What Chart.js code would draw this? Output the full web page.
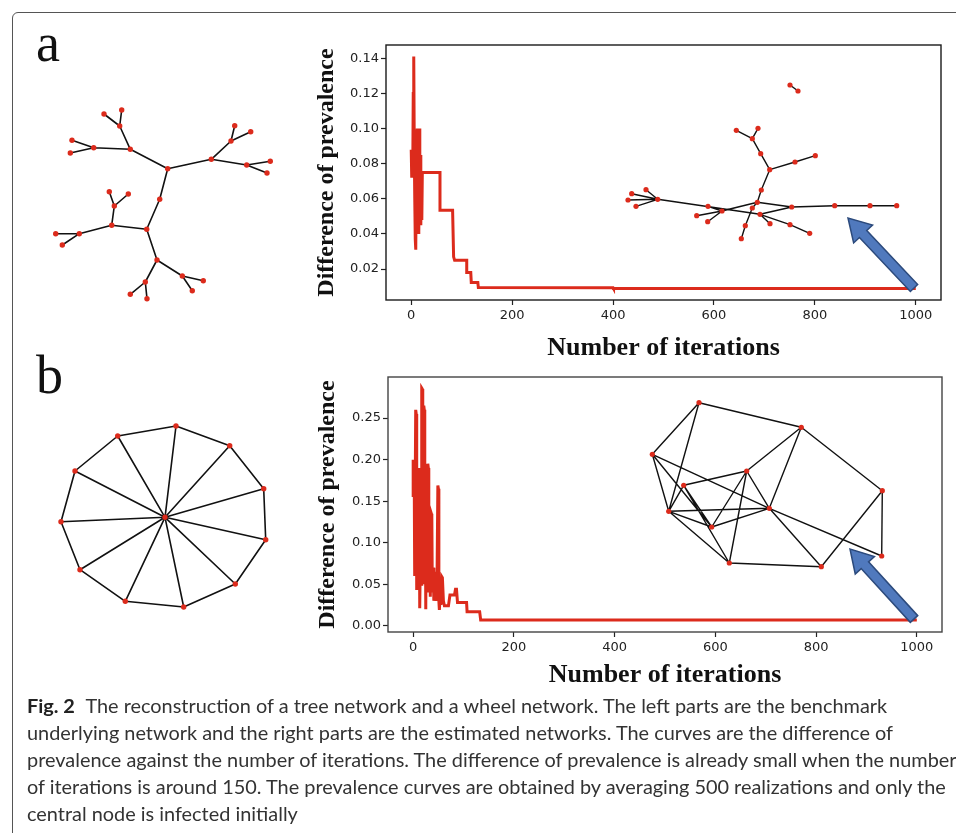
<!DOCTYPE html>
<html>
<head>
<meta charset="utf-8">
<script src="https://cdn.jsdelivr.net/npm/chart.js@4.4.1/dist/chart.umd.min.js"></script>
<style>
  body { margin: 0; width: 956px; height: 833px; background: #fff; position: relative; overflow: hidden; }
  .frame { position: absolute; left: 12px; top: 12px; width: 970px; height: 850px; border: 1px solid #555; border-radius: 6px; }
  .lbl { position: absolute; font-family: 'Liberation Serif', serif; font-size: 54px; line-height: 1; color: #111; }
  canvas { position: absolute; }
  .caption { position: absolute; left: 27px; top: 692px; font-family: Lato, sans-serif; font-size: 19.9px; line-height: 27px; color: #333; white-space: nowrap; }
  .caption b { color: #222; margin-right: 6px; }
</style>
</head>
<body>
<div class="frame"></div>
<div class="lbl" style="left:36px; top:16px;">a</div>
<div class="lbl" style="left:36px; top:348px;">b</div>

<canvas id="treeNet" width="280" height="240" style="left:20px; top:80px;"></canvas>
<canvas id="chartA" width="656" height="330" style="left:300px; top:40px;"></canvas>
<canvas id="wheelNet" width="280" height="240" style="left:20px; top:400px;"></canvas>
<canvas id="chartB" width="656" height="330" style="left:300px; top:370px;"></canvas>

<div class="caption">
  <b>Fig. 2</b> The reconstruction of a tree network and a wheel network. The left parts are the benchmark<br>
  underlying network and the right parts are the estimated networks. The curves are the difference of<br>
  prevalence against the number of iterations. The difference of prevalence is already small when the number<br>
  of iterations is around 150. The prevalence curves are obtained by averaging 500 realizations and only the<br>
  central node is infected initially
</div>

<script>
// ---- curve data ----
const xTicks = [0, 200, 400, 600, 800, 1000];
const yTicksA = [0.02, 0.04, 0.06, 0.08, 0.10, 0.12, 0.14];
const yTicksB = [0.00, 0.05, 0.10, 0.15, 0.20, 0.25];

const iterA = [0, 1, 2, 3, 4, 5, 6, 7, 8, 9, 10, 11, 12, 13, 14, 15, 16, 17, 18, 19, 20, 21, 22, 24,
  57, 57, 82, 84, 86, 110, 110, 118, 119, 132, 133, 400, 401, 1000];
const diffA = [0.088, 0.072, 0.086, 0.074, 0.120, 0.141, 0.090, 0.060, 0.037, 0.031, 0.080, 0.095,
  0.100, 0.050, 0.098, 0.040, 0.100, 0.060, 0.085, 0.045, 0.075, 0.048, 0.075, 0.075,
  0.075, 0.0535, 0.0535, 0.027, 0.025, 0.025, 0.018, 0.018, 0.0124, 0.0124, 0.0095, 0.0094, 0.0089, 0.0089];

const iterB = [0, 0, 2, 3, 5, 6, 7, 9, 10, 12, 13, 15, 16, 17, 18, 19, 21, 22, 23, 24, 25, 26, 27, 29,
  30, 31, 33, 34, 36, 37, 38, 40, 41, 43, 44, 46, 47, 49, 50, 51, 52, 54, 55, 57, 58, 60, 62, 70,
  73, 82, 84, 86, 88, 106, 107, 132, 134, 1000];
const diffB = [0.200, 0.155, 0.190, 0.060, 0.260, 0.255, 0.043, 0.140, 0.050, 0.190, 0.021, 0.120,
  0.050, 0.286, 0.285, 0.050, 0.265, 0.260, 0.060, 0.165, 0.020, 0.140, 0.050, 0.195,
  0.190, 0.040, 0.120, 0.035, 0.135, 0.133, 0.040, 0.070, 0.030, 0.065, 0.030, 0.050, 0.030, 0.169,
  0.165, 0.030, 0.019, 0.040, 0.025, 0.059, 0.058, 0.030, 0.024, 0.024,
  0.037, 0.037, 0.044, 0.044, 0.028, 0.028, 0.017, 0.017, 0.007, 0.007];

// ---- network layouts (node positions as read, in page pixels) ----
const treeNodes = [[121.7,110],[104,114],[119.7,126],[72,140.3],[70.3,153],[93.7,147.7],[130.3,149.3],
  [167.7,168.7],[211.3,159.3],[231,141],[234.7,125.7],[250.7,131.7],[246.7,165],[270.3,161.3],[267,173],
  [159.7,199.3],[146.7,229.3],[109.3,191.7],[128.3,194],[114.3,206],[111.7,225.3],[79.3,233.7],[55.7,233.7],
  [62.3,245],[157,260],[182.3,276],[203.3,280.7],[192.3,290.7],[145.3,282],[130.3,294.3],[147,298.7]];
const treeEdges = [[0,2],[1,2],[2,6],[3,5],[4,5],[5,6],[6,7],[7,8],[8,9],[9,10],[9,11],[8,12],[12,13],
  [12,14],[7,15],[15,16],[16,20],[20,19],[19,17],[19,18],[20,21],[21,22],[21,23],[16,24],[24,25],[25,26],
  [25,27],[24,28],[28,29],[28,30]];

const wheelNodes = [[165,517.3],[176,426],[229.7,445.7],[263.7,488.7],[265.7,539.7],[235.3,584],
  [183.7,607],[125.3,601.3],[80,569.7],[61,521.7],[75,471],[117.7,436]];
const wheelEdges = [[0,1],[0,2],[0,3],[0,4],[0,5],[0,6],[0,7],[0,8],[0,9],[0,10],[0,11],
  [1,2],[2,3],[3,4],[4,5],[5,6],[6,7],[7,8],[8,9],[9,10],[10,11],[11,1]];

const estTreeNodes = [[790,85],[798,91],[736.3,130.3],[758,128.3],[752.3,138.7],[760.7,153.7],[769.7,169.7],
  [795,162],[815.3,155.7],[761.3,190],[757.3,202.3],[752.3,208],[745.3,225.7],[741.3,238.7],[760,214.3],
  [770,223.7],[790,224.7],[809.7,233.3],[791.7,207],[834.7,205.7],[870,205.7],[896.7,205.7],[722,211],
  [708,206.3],[696.7,215.7],[707.7,221.7],[657.7,199.3],[646,189.7],[631.7,193.7],[628,200],[636,206.3]];
const estTreeEdges = [[0,1],[2,4],[3,4],[4,5],[5,6],[6,7],[7,8],[6,9],[9,10],[10,11],[11,12],[12,13],
  [10,18],[18,19],[19,20],[20,21],[22,10],[23,22],[24,22],[25,22],[26,14],[14,18],[14,15],[14,16],[16,17],
  [26,27],[26,28],[26,29],[26,30]];

const estWheelNodes = [[699,402.7],[801.3,427.3],[652.3,454.3],[746.7,471],[683.7,485.3],[882.3,490.7],
  [668.7,511.3],[769.3,508.3],[711.7,527],[881.7,556],[729.3,563],[821.3,566.7]];
const estWheelEdges = [[0,1],[0,2],[0,6],[1,5],[1,3],[1,7],[2,6],[2,8],[2,7],[4,3],[4,6],[4,8],[4,10],
  [6,7],[6,8],[6,10],[3,8],[3,10],[3,7],[8,7],[7,11],[7,9],[10,11],[11,5],[5,9]];

// arrows: [tail, tip]
const arrowA = [[914, 288], [848, 218]];
const arrowB = [[914, 619], [850, 549]];

const RED = '#dc2b1c';

function toPoints(xs, ys) { return xs.map((x, i) => ({ x: x, y: ys[i] })); }
function nodePoints(nodes) { return nodes.map(n => ({ x: n[0], y: n[1] })); }
function edgePoints(nodes, edges) {
  const pts = [];
  edges.forEach(([i, j]) => {
    pts.push({ x: nodes[i][0], y: nodes[i][1] }, { x: nodes[j][0], y: nodes[j][1] }, { x: null, y: null });
  });
  return pts;
}

const framePlugin = {
  id: 'frame',
  afterDraw(chart, args, o) {
    const { left, top, width, height } = chart.chartArea;
    const ctx = chart.ctx;
    ctx.save();
    ctx.strokeStyle = o.color;
    ctx.lineWidth = 1.4;
    ctx.strokeRect(left, top, width, height);
    ctx.restore();
  }
};

const arrowPlugin = {
  id: 'arrow',
  afterDatasetsDraw(chart, args, o) {
    if (!o.points) return;
    const sx = chart.scales.nx, sy = chart.scales.ny;
    const t0 = { x: sx.getPixelForValue(o.points[0][0]), y: sy.getPixelForValue(o.points[0][1]) };
    const t1 = { x: sx.getPixelForValue(o.points[1][0]), y: sy.getPixelForValue(o.points[1][1]) };
    const dx = t1.x - t0.x, dy = t1.y - t0.y, len = Math.hypot(dx, dy);
    const ux = dx / len, uy = dy / len, px = -uy, py = ux;
    const w = 5, hw = 13, hl = 22;
    const nx = t1.x - ux * hl, ny = t1.y - uy * hl;
    const ctx = chart.ctx;
    ctx.save();
    ctx.beginPath();
    ctx.moveTo(t0.x + px * w, t0.y + py * w);
    ctx.lineTo(nx + px * w, ny + py * w);
    ctx.lineTo(nx + px * hw, ny + py * hw);
    ctx.lineTo(t1.x, t1.y);
    ctx.lineTo(nx - px * hw, ny - py * hw);
    ctx.lineTo(nx - px * w, ny - py * w);
    ctx.lineTo(t0.x - px * w, t0.y - py * w);
    ctx.closePath();
    ctx.fillStyle = '#5079bd';
    ctx.fill();
    ctx.strokeStyle = '#2c4a7c';
    ctx.lineWidth = 1.5;
    ctx.stroke();
    ctx.restore();
  }
};

function panelChart(id, cfg) {
  const tickFont = { family: 'DejaVu Sans', size: 13 };
  const titleFont = { family: 'Liberation Serif', weight: 'bold', lineHeight: 1.2 };
  new Chart(document.getElementById(id), {
    type: 'line',
    data: {
      datasets: [
        { data: nodePoints(cfg.nodes), xAxisID: 'nx', yAxisID: 'ny', showLine: false,
          pointRadius: 2.6, pointBackgroundColor: RED, pointBorderWidth: 0, order: 0 },
        { data: edgePoints(cfg.nodes, cfg.edges), xAxisID: 'nx', yAxisID: 'ny', spanGaps: false,
          borderColor: '#111', borderWidth: 1.4, pointRadius: 0, order: 1 },
        { data: toPoints(cfg.iter, cfg.diff), xAxisID: 'x', yAxisID: 'y', borderColor: RED,
          borderWidth: 3, pointRadius: 0, tension: 0, borderJoinStyle: 'miter', order: 2 }
      ]
    },
    options: {
      responsive: false,
      animation: false,
      layout: { autoPadding: false, padding: cfg.padding },
      plugins: {
        legend: { display: false },
        tooltip: { enabled: false },
        frame: { color: cfg.frameColor },
        arrow: { points: cfg.arrow }
      },
      scales: {
        x: {
          type: 'linear', min: -50, max: 1050,
          afterBuildTicks: s => { s.ticks = xTicks.map(v => ({ value: v })); },
          afterFit: s => { s.height = cfg.xAxisHeight; s.paddingLeft = 0; s.paddingRight = 0; },
          grid: { drawOnChartArea: false, tickLength: 5, tickColor: '#222', tickWidth: 1.2 },
          border: { display: false },
          ticks: { font: tickFont, color: '#222', padding: 3, maxRotation: 0, callback: v => String(v) },
          title: { display: true, text: 'Number of iterations', color: '#111',
            font: Object.assign({ size: 26 }, titleFont), padding: { top: 0, bottom: cfg.xTitlePad } }
        },
        y: {
          type: 'linear', min: cfg.yMin, max: cfg.yMax,
          afterBuildTicks: s => { s.ticks = cfg.yTicks.map(v => ({ value: v })); },
          afterFit: s => { s.width = cfg.yAxisWidth; s.paddingTop = 0; s.paddingBottom = 0; },
          grid: { drawOnChartArea: false, tickLength: 5, tickColor: '#222', tickWidth: 1.2 },
          border: { display: false },
          ticks: { font: tickFont, color: '#222', padding: 2, callback: v => v.toFixed(2) },
          title: { display: true, text: 'Difference of prevalence', color: '#111',
            font: Object.assign({ size: 24 }, titleFont), padding: { top: cfg.yTitlePad, bottom: 0 } }
        },
        nx: { type: 'linear', display: false, min: cfg.box[0], max: cfg.box[1] },
        ny: { type: 'linear', display: false, min: cfg.box[2], max: cfg.box[3], reverse: true }
      }
    },
    plugins: [framePlugin, arrowPlugin]
  });
}

function netChart(id, nodes, edges, box) {
  new Chart(document.getElementById(id), {
    type: 'line',
    data: {
      datasets: [
        { data: nodePoints(nodes), showLine: false, pointRadius: 2.7,
          pointBackgroundColor: RED, pointBorderWidth: 0, order: 0 },
        { data: edgePoints(nodes, edges), spanGaps: false, borderColor: '#111',
          borderWidth: 1.6, pointRadius: 0, order: 1 }
      ]
    },
    options: {
      responsive: false,
      animation: false,
      layout: { autoPadding: false, padding: 0 },
      plugins: { legend: { display: false }, tooltip: { enabled: false } },
      scales: {
        x: { type: 'linear', display: false, min: box[0], max: box[1] },
        y: { type: 'linear', display: false, min: box[2], max: box[3], reverse: true }
      }
    }
  });
}

netChart('treeNet', treeNodes, treeEdges, [20, 300, 80, 320]);
netChart('wheelNet', wheelNodes, wheelEdges, [20, 300, 400, 640]);

panelChart('chartA', {
  iter: iterA, diff: diffA, yTicks: yTicksA, yMin: 0.0024, yMax: 0.1476,
  nodes: estTreeNodes, edges: estTreeEdges, arrow: arrowA,
  padding: { left: 0, top: 5, right: 15, bottom: 0 },
  yAxisWidth: 86, xAxisHeight: 70, xTitlePad: 6, yTitlePad: 12,
  box: [386, 941, 45, 300], frameColor: '#1a1a1a'
});

panelChart('chartB', {
  iter: iterB, diff: diffB, yTicks: yTicksB, yMin: -0.0075, yMax: 0.2995,
  nodes: estWheelNodes, edges: estWheelEdges, arrow: arrowB,
  padding: { left: 0, top: 7, right: 14, bottom: 0 },
  yAxisWidth: 88, xAxisHeight: 68, xTitlePad: 9, yTitlePad: 13,
  box: [388, 942, 377, 632], frameColor: '#444'
});
</script>
</body>
</html>
